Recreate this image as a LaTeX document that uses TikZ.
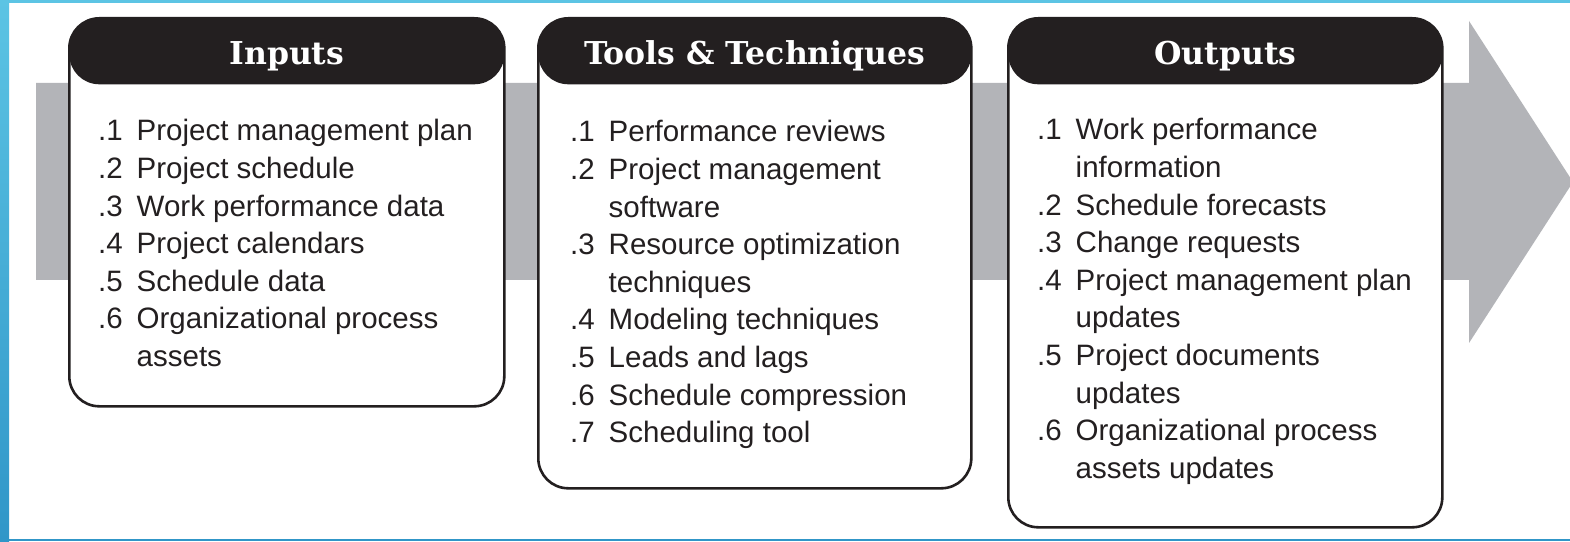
\documentclass[tikz,border=0pt]{standalone}
\usepackage{fontspec}
\setmainfont{Liberation Sans}
\newfontfamily\headfont{DejaVu Serif}
\usepackage{array}

\definecolor{frameblue}{RGB}{92,196,228}
\definecolor{frameblue2}{RGB}{48,150,200}
\definecolor{bandgray}{RGB}{179,180,184}
\definecolor{inkblack}{RGB}{35,31,32}

\begin{document}
\begin{tikzpicture}[x=1pt,y=1pt,
  panel/.style={draw=inkblack,line width=2.6pt,fill=white,rounded corners=30pt,
    anchor=north west,inner sep=0pt,
    path picture={\fill[inkblack] ([yshift=2pt]path picture bounding box.north west)
      rectangle ([yshift=-66pt]path picture bounding box.north east);}},
  title/.style={anchor=base,text=white,font=\headfont\bfseries\fontsize{31.5}{31.5}\selectfont},
  items/.style={anchor=base west,inner sep=0pt,text=inkblack,
    font=\fontsize{29.5}{37.6}\selectfont}]
\useasboundingbox (0,0) rectangle (1570,541);
\fill[white] (0,0) rectangle (1570,541);

% slide frame
\shade[top color=frameblue,bottom color=frameblue2] (0,0) rectangle (9,541);
\fill[frameblue] (0,538) rectangle (1570,541);
\fill[frameblue2] (0,0) rectangle (1570,2);

% grey flow arrow
\fill[bandgray] (36,458) -- (1469,458) -- (1469,520) -- (1573,359)
  -- (1469,198) -- (1469,261) -- (36,261) -- cycle;

\node[panel,minimum width=435pt,minimum height=388pt] (inbox) at (68,524) {};
\node[title] (intitle) at ([yshift=-48pt]inbox.north) {Inputs};
\node[items] (inlist) at (98,400) {\begin{tabular}[t]{@{}p{38.5pt}@{}l@{}}
.1 & Project management plan\\
.2 & Project schedule\\
.3 & Work performance data\\
.4 & Project calendars\\
.5 & Schedule data\\
.6 & Organizational process\\
   & assets
\end{tabular}};

\node[panel,minimum width=433pt,minimum height=470pt] (toolbox) at (537,524) {};
\node[title] (tooltitle) at ([yshift=-48pt]toolbox.north) {Tools \& Techniques};
\node[items] (toollist) at (570,399) {\begin{tabular}[t]{@{}p{38.5pt}@{}l@{}}
.1 & Performance reviews\\
.2 & Project management\\
   & software\\
.3 & Resource optimization\\
   & techniques\\
.4 & Modeling techniques\\
.5 & Leads and lags\\
.6 & Schedule compression\\
.7 & Scheduling tool
\end{tabular}};

\node[panel,minimum width=434pt,minimum height=509pt] (outbox) at (1007,524) {};
\node[title] (outtitle) at ([yshift=-48pt]outbox.north) {Outputs};
\node[items] (outlist) at (1037,401) {\begin{tabular}[t]{@{}p{38.5pt}@{}l@{}}
.1 & Work performance\\
   & information\\
.2 & Schedule forecasts\\
.3 & Change requests\\
.4 & Project management plan\\
   & updates\\
.5 & Project documents\\
   & updates\\
.6 & Organizational process\\
   & assets updates
\end{tabular}};
\end{tikzpicture}
\end{document}
